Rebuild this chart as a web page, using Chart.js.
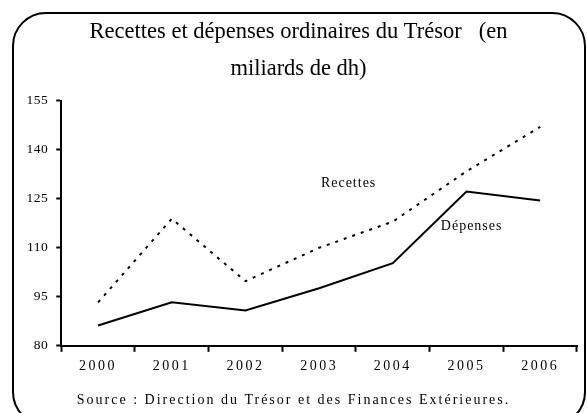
<!DOCTYPE html>
<html lang="fr">
<head>
  <meta charset="UTF-8" />
  <title>Recettes et dépenses ordinaires du Trésor</title>
  <script src="https://cdn.jsdelivr.net/npm/chart.js@4.4.0/dist/chart.umd.min.js"></script>
  <style>
    body { margin: 0; background: #fff; }
    #wrap { position: relative; width: 587px; height: 413px; }
    #frame {
      position: absolute; left: 12px; top: 12px; width: 570px; height: 410px;
      border: 2px solid #000; border-radius: 34px; pointer-events: none;
    }
    canvas { position: absolute; left: 0; top: 0; }
  </style>
</head>
<body>
<div id="wrap">
  <canvas id="chart" width="587" height="413"></canvas>
  <div id="frame"></div>
</div>
<script>
  // data
  const years    = ['2000', '2001', '2002', '2003', '2004', '2005', '2006'];
  const recettes = [93.3, 118.9, 99.8, 110.0, 118.0, 133.4, 147.0];
  const depenses = [86.2, 93.3, 90.8, 97.6, 105.3, 127.2, 124.5];
  const yTicks   = [80, 95, 110, 125, 140, 155];
  const sourceNote = 'Source : Direction du Trésor et des Finances Extérieures.';

  // series names written next to the lines: [text, x index, y value]
  const seriesLabels = [
    ['Recettes', 3.4, 129.7],
    ['Dépenses', 5.07, 116.7]
  ];

  const serif = '"Liberation Serif", "Times New Roman", serif';

  // the original uses widely spaced glyphs for ticks and the source line
  function withSpacing(obj, method, spacing, dx = 0) {
    if (obj['_sp_' + method]) return;
    const orig = obj[method];
    obj[method] = function (...args) {
      const c = this.ctx;
      const prev = c.letterSpacing;
      c.save();
      c.translate(dx, 0);
      c.letterSpacing = spacing;
      orig.apply(this, args);
      c.letterSpacing = prev;
      c.restore();
    };
    obj['_sp_' + method] = true;
  }

  const spacing = {
    id: 'spacing',
    beforeDraw(chart) {
      withSpacing(chart.scales.x, 'drawLabels', '2.5px');
      withSpacing(chart.scales.y, 'drawLabels', '0.5px');
      chart.boxes
        .filter(b => b.options && b.options.text === sourceNote)
        .forEach(b => withSpacing(b, 'draw', '2px', -5));
    }
  };

  const inlineLabels = {
    id: 'inlineLabels',
    afterDatasetsDraw(chart) {
      const { ctx, scales: { x, y } } = chart;
      ctx.save();
      ctx.font = '14px ' + serif;
      ctx.fillStyle = '#000';
      ctx.textAlign = 'center';
      ctx.textBaseline = 'middle';
      ctx.letterSpacing = '1px';
      seriesLabels.forEach(([txt, xi, yv]) => {
        ctx.fillText(txt, x.getPixelForValue(xi), y.getPixelForValue(yv));
      });
      ctx.restore();
    }
  };

  new Chart(document.getElementById('chart'), {
    type: 'line',
    data: {
      labels: years,
      datasets: [
        { label: 'Recettes', data: recettes, borderColor: '#000', borderWidth: 2,
          borderDash: [3, 6], pointRadius: 0, tension: 0, fill: false },
        { label: 'Dépenses', data: depenses, borderColor: '#000', borderWidth: 2,
          pointRadius: 0, tension: 0, fill: false }
      ]
    },
    options: {
      responsive: false,
      animation: false,
      layout: { padding: { left: 20, right: 10, top: 0, bottom: 4.6 } },
      plugins: {
        legend: { display: false },
        tooltip: { enabled: false },
        title: {
          display: true,
          text: ['Recettes et dépenses ordinaires du Trésor   (en', 'miliards de dh)'],
          color: '#000',
          font: { family: serif, size: 22.5, weight: 'normal', lineHeight: 1.64 },
          padding: { top: 14, bottom: 13 }
        },
        subtitle: {
          display: true,
          position: 'bottom',
          text: sourceNote,
          color: '#000',
          font: { family: serif, size: 14, weight: 'normal' },
          padding: { top: 11, bottom: 0 }
        }
      },
      scales: {
        x: {
          offset: true,
          grid: { display: true, offset: true, drawOnChartArea: false, tickLength: 6,
                  color: '#000', tickWidth: 2 },
          border: { display: true, color: '#000', width: 2 },
          ticks: { color: '#000', font: { family: serif, size: 14 }, padding: 6, maxRotation: 0 }
        },
        y: {
          min: 80, max: 155,
          afterBuildTicks: axis => { axis.ticks = yTicks.map(v => ({ value: v })); },
          grid: { display: true, drawOnChartArea: false, tickLength: 5, color: '#000', tickWidth: 2 },
          border: { display: true, color: '#000', width: 2 },
          ticks: { color: '#000', font: { family: serif, size: 13.5 }, padding: 8 }
        }
      }
    },
    plugins: [spacing, inlineLabels]
  });
</script>
</body>
</html>
